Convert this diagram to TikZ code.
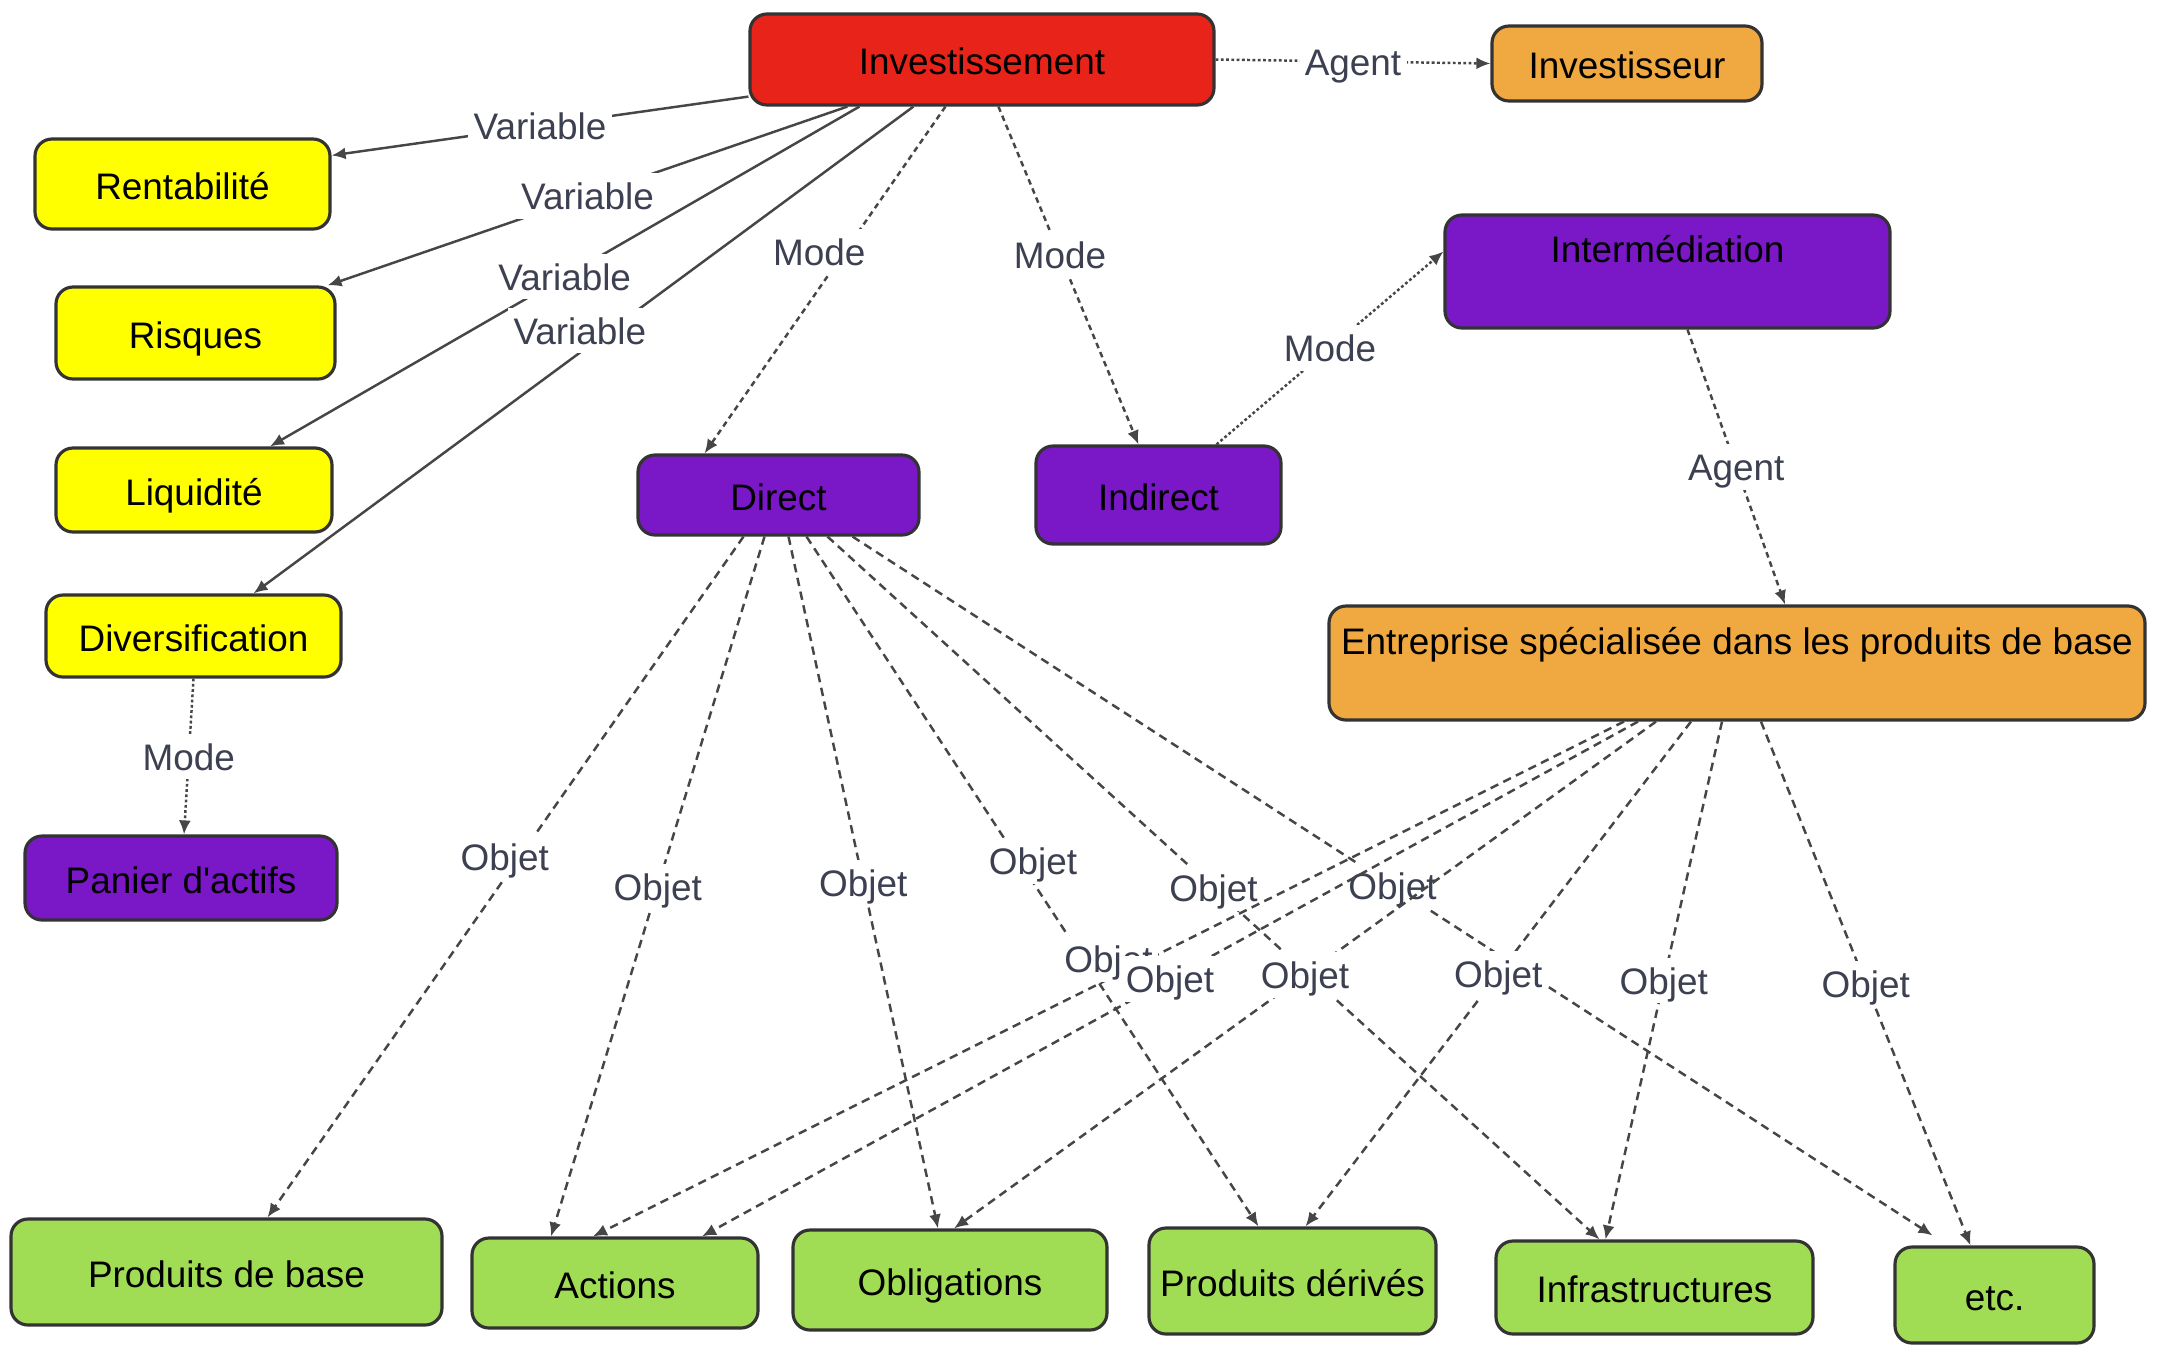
\documentclass[tikz,border=0pt]{standalone}
\usepackage{fontspec}
\setmainfont{Liberation Sans}
\usepackage{tikz}
\usetikzlibrary{arrows.meta,positioning}
\definecolor{rouge}{RGB}{232,35,26}
\definecolor{orangec}{RGB}{240,168,64}
\definecolor{jaune}{RGB}{255,255,0}
\definecolor{violetc}{RGB}{122,24,200}
\definecolor{vert}{RGB}{160,220,84}
\definecolor{trait}{RGB}{70,70,70}
\definecolor{etiq}{RGB}{60,64,80}

\begin{document}
\begin{tikzpicture}[
  concept/.style={draw=black!80, line width=0.9pt, rounded corners=0.17cm, inner sep=0pt,
    font=\fontsize{10.5}{12}\selectfont, text height=0.32cm, text depth=0.02cm},
  lbl/.style={fill=white, inner sep=1.5pt, text=etiq, font=\fontsize{10.5}{12}\selectfont,
    text height=0.31cm, text depth=0.04cm},
  fleche/.style={draw=trait, line width=0.7pt, -{Latex[length=1.4mm,width=1.2mm]}},
  lienvar/.style={fleche},
  lienmode/.style={fleche, dash pattern=on 1.6pt off 1.2pt},
  pointille/.style={fleche, dash pattern=on 0.8pt off 0.7pt},
  lienobjet/.style={fleche, dash pattern=on 2.4pt off 1.6pt}]
\useasboundingbox (0,0) rectangle (21.61,-13.47);
% concepts
\node[concept, fill=rouge, minimum width=4.64cm, minimum height=0.91cm] (inv) at (9.82,-0.595) {Investissement};
\node[concept, fill=orangec, minimum width=2.70cm, minimum height=0.75cm] (ivr) at (16.27,-0.635) {Investisseur};
\node[concept, fill=jaune, minimum width=2.95cm, minimum height=0.90cm] (rent) at (1.825,-1.84) {Rentabilité};
\node[concept, fill=jaune, minimum width=2.79cm, minimum height=0.92cm] (risq) at (1.955,-3.33) {Risques};
\node[concept, fill=jaune, minimum width=2.76cm, minimum height=0.84cm] (liq) at (1.94,-4.90) {Liquidité};
\node[concept, fill=jaune, minimum width=2.95cm, minimum height=0.82cm] (div) at (1.935,-6.36) {Diversification};
\node[concept, fill=violetc, minimum width=3.12cm, minimum height=0.84cm] (pan) at (1.81,-8.78) {Panier d\textquotesingle actifs};
\node[concept, fill=violetc, minimum width=2.81cm, minimum height=0.80cm] (dir) at (7.785,-4.95) {Direct};
\node[concept, fill=violetc, minimum width=2.45cm, minimum height=0.98cm] (ind) at (11.585,-4.95) {Indirect};
\node[concept, fill=violetc, minimum width=4.45cm, text height=0.47cm, text depth=0.66cm] (inter) at (16.675,-2.715) {Intermédiation};
\node[concept, fill=orangec, minimum width=8.16cm, text height=0.48cm, text depth=0.66cm] (ent) at (17.37,-6.63) {Entreprise spécialisée dans les produits de base};
% objets
\node[concept, fill=vert, minimum width=4.31cm, minimum height=1.06cm] (pb) at (2.265,-12.72) {Produits de base};
\node[concept, fill=vert, minimum width=2.86cm, minimum height=0.90cm] (act) at (6.15,-12.83) {Actions};
\node[concept, fill=vert, minimum width=3.14cm, minimum height=1.00cm] (obl) at (9.50,-12.80) {Obligations};
\node[concept, fill=vert, minimum width=2.87cm, minimum height=1.06cm] (der) at (12.925,-12.81) {Produits dérivés};
\node[concept, fill=vert, minimum width=3.17cm, minimum height=0.93cm] (inf) at (16.545,-12.875) {Infrastructures};
\node[concept, fill=vert, minimum width=1.99cm, minimum height=0.96cm] (etc) at (19.945,-12.95) {etc.};

% liens de l'investissement
\draw[pointille] (inv.east) -- node[lbl] {Agent} (ivr.west);
\draw[lienvar] ([yshift=0.1cm]inv.south west) -- node[lbl] {Variable} ([yshift=-0.18cm]rent.north east);
\draw[lienvar] ([xshift=0.99cm]inv.south west) -- node[lbl] {Variable} ([xshift=-0.09cm]risq.north east);
\draw[lienvar] ([xshift=1.11cm]inv.south west) -- node[lbl] {Variable} ([xshift=0.76cm]liq.north);
\draw[lienvar] ([xshift=1.65cm]inv.south west) -- node[lbl, pos=0.46, xshift=-0.3cm] {Variable} ([xshift=0.6cm]div.north);
\draw[lienmode] ([xshift=1.97cm]inv.south west) -- node[lbl, pos=0.42, xshift=-0.25cm] {Mode} ([xshift=-0.74cm]dir.north);
\draw[lienmode] ([xshift=2.5cm]inv.south west) -- node[lbl, pos=0.44] {Mode} ([xshift=-0.2cm]ind.north);
\draw[pointille] ([xshift=0.58cm]ind.north) -- node[lbl] {Mode} ([yshift=0.2cm]inter.west);
\draw[lienmode] ([xshift=0.2cm]inter.south) -- node[lbl] {Agent} ([xshift=0.48cm]ent.north);
\draw[pointille] (div.south) -- node[lbl] {Mode} ([xshift=0.03cm]pan.north);

% objets du mode direct
\draw[lienobjet] ([xshift=-0.35cm]dir.south) -- node[lbl, pos=0.47, xshift=-0.15cm] {Objet} ([xshift=0.41cm]pb.north);
\draw[lienobjet] ([xshift=-0.14cm]dir.south) -- node[lbl] {Objet} ([xshift=-0.64cm]act.north);
\draw[lienobjet] ([xshift=0.1cm]dir.south) -- node[lbl] {Objet} ([xshift=-0.12cm]obl.north);
\draw[lienobjet] ([xshift=0.28cm]dir.south) -- node[lbl, pos=0.47, xshift=0.14cm] {Objet} ([xshift=-0.34cm]der.north);
\draw[lienobjet] ([xshift=0.49cm]dir.south) -- node[lbl] {Objet} ([xshift=-0.55cm]inf.north);
\draw[lienobjet] ([xshift=0.74cm]dir.south) -- node[lbl] {Objet} ([xshift=-0.62cm,yshift=0.1cm]etc.north);

% objets de l'entreprise
\draw[lienobjet] ([xshift=-1.13cm]ent.south) -- node[lbl, yshift=0.2cm] {Objet} ([xshift=-0.22cm]act.north);
\draw[lienobjet] ([xshift=-0.99cm]ent.south) -- node[lbl] {Objet} ([xshift=0.87cm]act.north);
\draw[lienobjet] ([xshift=-0.81cm]ent.south) -- node[lbl] {Objet} ([xshift=0.04cm]obl.north);
\draw[lienobjet] ([xshift=-0.46cm]ent.south) -- node[lbl] {Objet} ([xshift=0.13cm]der.north);
\draw[lienobjet] ([xshift=-0.15cm]ent.south) -- node[lbl] {Objet} ([xshift=-0.49cm]inf.north);
\draw[lienobjet] ([xshift=0.24cm]ent.south) -- node[lbl] {Objet} ([xshift=-0.24cm]etc.north);
\end{tikzpicture}
\end{document}
